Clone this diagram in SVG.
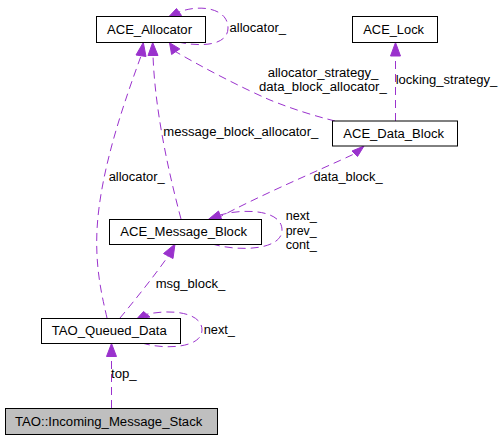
<svg xmlns="http://www.w3.org/2000/svg" width="504" height="439" viewBox="0 0 504 439">
<style>
  .box { fill: #ffffff; stroke: #000000; stroke-width: 1; }
  .cur { fill: #bfbfbf; stroke: #000000; stroke-width: 1; }
  text { font-family: "Liberation Sans", "DejaVu Sans", Arial, sans-serif; font-size: 12px; fill: #000000; }
  .edge { fill: none; stroke: #9a32cd; stroke-width: 1; stroke-dasharray: 8,5; }
  .head { fill: #9a32cd; stroke: #9a32cd; stroke-width: 1; }
</style>
<rect width="504" height="439" fill="#ffffff"/>
<g id="connectors">
  <!-- ACE_Allocator self loop: allocator_ -->
  <path class="edge" d="M178,42 C 200,47 228,46 228,28 C 228,8 200,4 179,12"/>
  <polygon class="head" points="169,16.5 176.5,8.5 181.5,15.5"/>
  <text x="229.5" y="32" textLength="56.5" lengthAdjust="spacingAndGlyphs">allocator_</text>
  <!-- allocator_ from TAO_Queued_Data -->
  <path class="edge" d="M107,318 C 103,300 95,270 97,230 C 100,170 125,100 141,56"/>
  <polygon class="head" points="143.3,42.5 136,55 146,56.5"/>
  <text x="108.7" y="181" textLength="56" lengthAdjust="spacingAndGlyphs">allocator_</text>
  <!-- message_block_allocator_ -->
  <path class="edge" d="M181,219 C 168,170 155,110 153,55.5"/>
  <polygon class="head" points="152.7,42.5 148,55.5 158,55.5"/>
  <text x="163.3" y="135.5" textLength="155" lengthAdjust="spacingAndGlyphs">message_block_allocator_</text>
  <!-- allocator_strategy_ / data_block_allocator_ -->
  <path class="edge" d="M335,121 C 315,116 295,110 270,100 C 240,87 200,66 175.7,51.7"/>
  <polygon class="head" points="169.5,42.7 171.6,54.5 179.8,48.9"/>
  <text x="267.7" y="77" textLength="110.6" lengthAdjust="spacingAndGlyphs">allocator_strategy_</text>
  <text x="259" y="91" textLength="127.7" lengthAdjust="spacingAndGlyphs">data_block_allocator_</text>
  <!-- locking_strategy_ -->
  <path class="edge" d="M395.5,121 L395.5,56"/>
  <polygon class="head" points="395.5,42.5 390.5,56 400.5,56"/>
  <text x="395.7" y="83.5" textLength="101.6" lengthAdjust="spacingAndGlyphs">locking_strategy_</text>
  <!-- data_block_ -->
  <path class="edge" d="M216,219 C 260,195 320,170 354.7,153.7"/>
  <polygon class="head" points="364,146 352,151 357.5,156.5"/>
  <text x="313.5" y="181" textLength="69" lengthAdjust="spacingAndGlyphs">data_block_</text>
  <!-- ACE_Message_Block self loop: next_ prev_ cont_ -->
  <path class="edge" d="M212,244 C 240,252 282,250 282,230 C 282,210 245,208 220,215"/>
  <polygon class="head" points="208.5,219.3 218.5,211 221.5,219"/>
  <text x="285.7" y="220" textLength="31" lengthAdjust="spacingAndGlyphs">next_</text>
  <text x="285.7" y="234.5" textLength="31" lengthAdjust="spacingAndGlyphs">prev_</text>
  <text x="285.7" y="249" textLength="31" lengthAdjust="spacingAndGlyphs">cont_</text>
  <!-- msg_block_ -->
  <path class="edge" d="M120,318 C 135,300 155,275 168.3,256"/>
  <polygon class="head" points="175,244 163.5,253.5 173,258.5"/>
  <text x="155.7" y="287.5" textLength="69.6" lengthAdjust="spacingAndGlyphs">msg_block_</text>
  <!-- TAO_Queued_Data self loop: next_ -->
  <path class="edge" d="M142,343 C 165,350 202,348 202,330 C 202,312 170,309 146.7,314.3"/>
  <polygon class="head" points="136.7,319 143.5,311.5 150,317"/>
  <text x="203.7" y="334" textLength="31.3" lengthAdjust="spacingAndGlyphs">next_</text>
  <!-- top_ -->
  <path class="edge" d="M111.5,408 L111.5,356.5"/>
  <polygon class="head" points="111.5,343.5 106.5,356.5 116.5,356.5"/>
  <text x="111" y="378" textLength="25.7" lengthAdjust="spacingAndGlyphs">top_</text>
</g>
<g id="ACE_Allocator">
  <rect class="box" x="96.5" y="16.5" width="109" height="26"/>
  <text x="107" y="33.5" textLength="85" lengthAdjust="spacingAndGlyphs">ACE_Allocator</text>
</g>
<g id="ACE_Lock">
  <rect class="box" x="352.5" y="16.5" width="85" height="26"/>
  <text x="363.3" y="34" textLength="60.7" lengthAdjust="spacingAndGlyphs">ACE_Lock</text>
</g>
<g id="ACE_Data_Block">
  <rect class="box" x="332.5" y="121" width="125" height="25"/>
  <text x="343.3" y="137.8" textLength="100.7" lengthAdjust="spacingAndGlyphs">ACE_Data_Block</text>
</g>
<g id="ACE_Message_Block">
  <rect class="box" x="109.5" y="219.5" width="152" height="25"/>
  <text x="120.3" y="236" textLength="126.7" lengthAdjust="spacingAndGlyphs">ACE_Message_Block</text>
</g>
<g id="TAO_Queued_Data">
  <rect class="box" x="41.5" y="318.5" width="139" height="25"/>
  <text x="51.7" y="335" textLength="115" lengthAdjust="spacingAndGlyphs">TAO_Queued_Data</text>
</g>
<g id="TAO_Incoming_Message_Stack">
  <rect class="cur" x="5.5" y="408.5" width="212" height="26"/>
  <text x="15" y="425.5" textLength="187.3" lengthAdjust="spacingAndGlyphs">TAO::Incoming_Message_Stack</text>
</g>
</svg>
